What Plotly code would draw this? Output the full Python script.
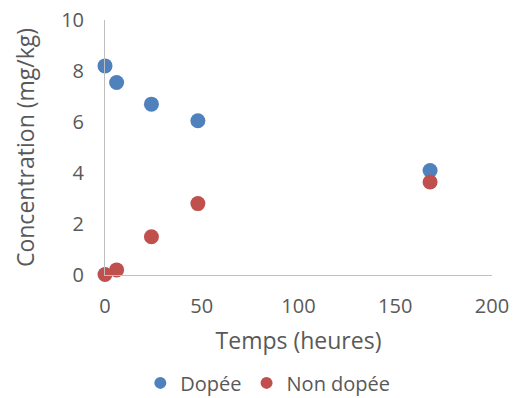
import plotly.graph_objects as go

temps = [0, 6, 24, 48, 168]
dopee = [8.2, 7.55, 6.7, 6.05, 4.1]
non_dopee = [0.02, 0.2, 1.5, 2.8, 3.65]

blue = "#4F81BD"
red = "#C0504D"
font = "Open Sans, sans-serif"

fig = go.Figure()
fig.add_trace(go.Scatter(x=temps, y=dopee, mode="markers", name="Dopée",
                         marker=dict(color=blue, size=15), cliponaxis=False))
fig.add_trace(go.Scatter(x=temps, y=non_dopee, mode="markers", name="Non dopée",
                         marker=dict(color=red, size=15), cliponaxis=False))

fig.update_layout(
    width=515, height=398,
    margin=dict(l=105, r=23, t=20, b=123),
    paper_bgcolor="white", plot_bgcolor="white",
    font=dict(family=font, color="#595959", size=20),
    showlegend=True,
    legend=dict(orientation="h", x=0.52, xanchor="center", xref="container",
                y=0.038, yanchor="middle", yref="container",
                font=dict(size=20, color="#595959"), itemsizing="constant",
                tracegroupgap=0, itemwidth=30),
    xaxis=dict(range=[0, 200], tickvals=[0, 50, 100, 150, 200], showgrid=False,
               zeroline=False, showline=True, linecolor="#BFBFBF", linewidth=1,
               ticks="", tickfont=dict(size=20), ticklabelstandoff=13, automargin=False,
               title=dict(text="Temps (heures)", font=dict(size=23), standoff=14)),
    yaxis=dict(range=[0, 10], tickvals=[0, 2, 4, 6, 8, 10], showgrid=False,
               zeroline=False, showline=True, linecolor="#BFBFBF", linewidth=1,
               ticks="", tickfont=dict(size=20), ticklabelstandoff=16, automargin=False,
               title=dict(text="Concentration (mg/kg)", font=dict(size=23), standoff=20)),
)

fig.write_html("out.html")
